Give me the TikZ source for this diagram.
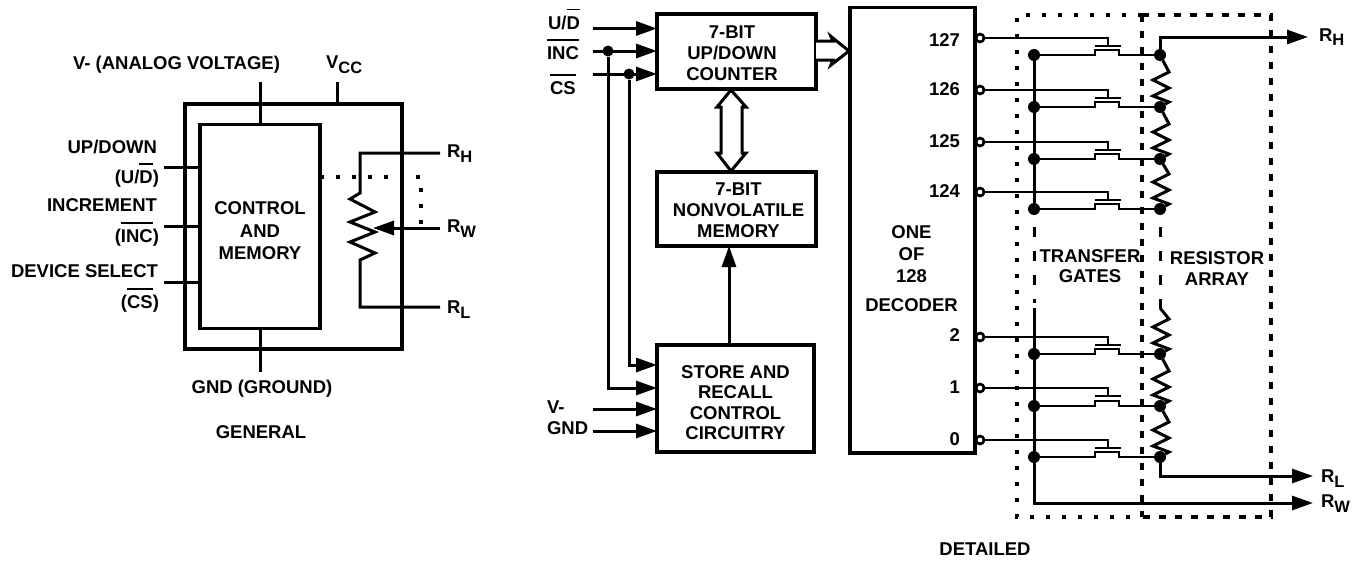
\documentclass[tikz,border=0pt]{standalone}
\usepackage{fontspec}
\setmainfont{Liberation Sans}
\usetikzlibrary{arrows.meta}
\newcommand\ovl[1]{\leavevmode\setbox0=\hbox{#1}\rlap{\raisebox{18.5pt}{\rule{\wd0}{1.8pt}}}\box0}
\newcommand\sbs[1]{\raisebox{-5pt}{\fontsize{16.5}{16.5}\selectfont #1}}
\newcommand\boxt[3]{\makebox[0pt]{\kern#1pt\kern#1pt\raisebox{#2pt}[0pt][0pt]{\begin{tabular}{@{}c@{}}#3\end{tabular}}}}
\tikzset{
  wire/.style={line width=3pt,line join=miter},
  thinwire/.style={line width=2.7pt,line join=miter},
  arrowwire/.style={wire,-{Triangle[length=21pt,width=14pt]}},
  blockbox/.style={draw,line width=3.1pt,rectangle,inner sep=0pt,outer sep=0pt,font=\bfseries\fontsize{18.5}{21}\selectfont},
  lbl/.style={inner sep=0pt,outer sep=0pt,font=\bfseries\fontsize{18.5}{21}\selectfont},
  dotline/.style={line width=3.2pt,dash pattern=on 4pt off 12pt},
  dashline/.style={line width=3.2pt,dash pattern=on 7pt off 9pt},
  busdash/.style={line width=3pt,dash pattern=on 10pt off 14pt},
  soliddot/.style={circle,fill=black,inner sep=0pt,outer sep=0pt,minimum size=12pt},
  opendot/.style={circle,draw,line width=2.7pt,fill=white,inner sep=0pt,outer sep=0pt,minimum size=8pt},
  smalldot/.style={circle,fill=black,inner sep=0pt,outer sep=0pt,minimum size=11pt},
  hollow/.style={line width=3pt,line join=miter,fill=white},
}
\begin{document}
\begin{tikzpicture}[x=1pt,y=-1pt]
\useasboundingbox (0,0) rectangle (1359,562);
%% ---------- GENERAL ----------
\node[blockbox,minimum width=217pt,minimum height=245pt] (outer) at (293.5,226.5) {};
\node[blockbox,minimum width=120pt,minimum height=204pt] (ctrl) at (260,226.25) {\boxt{0}{-11}{CONTROL\\[1.5pt]AND\\[1.5pt]MEMORY}};
\coordinate (vtop) at (260,82);
\coordinate (vcctop) at (337,82);
\coordinate (gndbot) at (260,372);
\coordinate (udl) at (164,167);
\coordinate (incl) at (164,226);
\coordinate (csl) at (164,282);
\coordinate (rhr) at (440,153);
\coordinate (rlr) at (440,307);
\coordinate (rwr) at (440,228);
\coordinate (rwt) at (373,228);
\draw[wire] (vtop) -- (ctrl.north);
\draw[wire] (vcctop) -- (outer.north -| vcctop);
\draw[wire] (ctrl.south) -- (gndbot);
\draw[wire] (udl) -- (ctrl.west |- udl);
\draw[wire] (incl) -- (ctrl.west |- incl);
\draw[wire] (csl) -- (ctrl.west |- csl);
\draw[wire] (rhr) -- (360,153) -- (360,193) -- (350,199) -- (375,212) -- (350,222) -- (375,232) -- (350,242) -- (375,253) -- (360,260) -- (360,307) -- (rlr);
\draw[arrowwire] (rwr) -- (rwt);
\draw[dotline] (ctrl.east |- 0,177) -- (421,177) -- (421,228);
\node[lbl,anchor=base] (tv) at (176.5,69) {V- (ANALOG VOLTAGE)};
\node[lbl,anchor=base west] (tvcc) at (326,68) {V\sbs{CC}};
\node[lbl,anchor=base east] (tud1) at (157,153) {UP/DOWN};
\node[lbl,anchor=base east] (tud2) at (159,183) {(U/\ovl{D})};
\node[lbl,anchor=base east] (tinc1) at (157,211) {INCREMENT};
\node[lbl,anchor=base east] (tinc2) at (159,242) {(\ovl{INC})};
\node[lbl,anchor=base east] (tcs1) at (158,277) {DEVICE SELECT};
\node[lbl,anchor=base east] (tcs2) at (159,308) {(\ovl{CS})};
\node[lbl,anchor=base west] (trh) at (447,157) {R\sbs{H}};
\node[lbl,anchor=base west] (trw) at (447,232) {R\sbs{W}};
\node[lbl,anchor=base west] (trl) at (447,313) {R\sbs{L}};
\node[lbl,anchor=base] (tgnd) at (262,393) {GND (GROUND)};
\node[lbl,anchor=base] (tgen) at (261,438) {GENERAL};
%% ---------- DETAILED: blocks ----------
\node[blockbox,minimum width=159pt,minimum height=75pt] (counter) at (736.5,51.5) {\boxt{-4.5}{-8.3}{7-BIT\\UP/DOWN\\COUNTER}};
\node[blockbox,minimum width=159pt,minimum height=74pt] (memory) at (736.5,209) {\boxt{2}{-7.3}{7-BIT\\NONVOLATILE\\MEMORY}};
\node[blockbox,minimum width=157pt,minimum height=107pt] (store) at (735.5,398.5) {\boxt{0}{-10.8}{STORE AND\\[-0.6pt]RECALL\\[-0.6pt]CONTROL\\[-0.6pt]CIRCUITRY}};
\node[blockbox,minimum width=125pt,minimum height=445.5pt] (decoder) at (912.5,230.25) {\boxt{-1}{-44.8}{ONE\\[1pt]OF\\[1pt]128\\[8pt]DECODER}};
%% inputs
\coordinate (inud) at (593,28.5);
\coordinate (ininc) at (593,51);
\coordinate (incs) at (593,74);
\coordinate (inv) at (593,409);
\coordinate (ingnd) at (593,431);
\node[smalldot] (dinc) at (608,51) {};
\node[smalldot] (dcs) at (629,74) {};
\draw[arrowwire] (inud) -- (counter.west |- inud);
\draw[arrowwire] (ininc) -- (counter.west |- ininc);
\draw[arrowwire] (incs) -- (counter.west |- incs);
\draw[arrowwire] (inv) -- (store.west |- inv);
\draw[arrowwire] (ingnd) -- (store.west |- ingnd);
\draw[arrowwire] (dinc) -- (608,388) -- (store.west |- 0,388);
\draw[arrowwire] (dcs) -- (629,365) -- (store.west |- 0,365);
\draw[arrowwire] (store.north -| 729,0) -- (memory.south -| 729,0);
%% hollow buses
\draw[hollow] (counter.east |- 0,41) -- (833,41) -- (831,36.5) -- (849,51) -- (831,65) -- (833,60) -- (counter.east |- 0,60);
\draw[hollow] (731,90) -- (746,107) -- (742,107) -- (742,153) -- (746,153) -- (731,171) -- (717,153) -- (721,153) -- (721,107) -- (717,107) -- cycle;
%% dotted regions
\coordinate (boxtl) at (1017,15);
\coordinate (boxtm) at (1142,15);
\coordinate (boxtr) at (1271,15);
\coordinate (boxbl) at (1017,517);
\coordinate (boxbm) at (1142,517);
\coordinate (boxbr) at (1271,517);
\draw[dotline] (boxtm) -- (boxtl) -- (boxbl) -- (boxbm);
\draw[dashline] (boxtm) -- (boxtr) -- (boxbr) -- (boxbm);
\draw[dashline] (boxtm) -- (boxbm);
%% transfer gates
\foreach \n/\y/\s in {a/38/55,b/90/107,c/142/159,d/192/209,e/337/354,f/388/406,g/440/457}{
  \node[opendot] (o\n) at (980,\y) {};
  \node[soliddot] (l\n) at (1034,\s) {};
  \node[soliddot] (r\n) at (1160,\s) {};
  \draw[thinwire] (o\n) -- (1108,\y) -- (1108,\y+8);
  \draw[thinwire] (1095,\y+8) -- (1121,\y+8);
  \draw[thinwire] (l\n) -- (1095,\s) -- (1095,\s-5) -- (1119,\s-5) -- (1119,\s) -- (r\n);
}
%% bus and resistor chain
\draw[wire] (la) -- (ld);
\draw[busdash] (1034,227) -- (1034,303);
\draw[busdash] (1160,227) -- (1160,308);
\coordinate (lowstart) at (1034,308);
\draw[wire] (lowstart) -- (lg);
\coordinate (rwend) at (1313,503);
\coordinate (rlend) at (1313,476);
\coordinate (rhend) at (1308,37);
\draw[arrowwire] (lg) -- (1034,503) -- (rwend);
\draw[arrowwire] (rg) -- (1160,476) -- (rlend);
\draw[arrowwire] (ra) -- (1160,37) -- (rhend);
\foreach \p/\q/\t in {a/b/107,b/c/159,c/d/209}{
  \draw[wire] (r\p) -- (1169,\t-35) -- (1153,\t-27) -- (1169,\t-19) -- (1153,\t-11) -- (1169,\t-5) -- (r\q);
}
\foreach \p/\q/\t in {e/f/406,f/g/457}{
  \draw[wire] (r\p) -- (1169,\t-35) -- (1153,\t-27) -- (1169,\t-19) -- (1153,\t-11) -- (1169,\t-5) -- (r\q);
}
\coordinate (rlow) at (1160,308);
\draw[wire] (rlow) -- (1169,319) -- (1153,327) -- (1169,335) -- (1153,343) -- (1169,349) -- (re);
%% labels
\node[lbl,anchor=base west] (dud) at (548,29) {U/\ovl{D}};
\node[lbl,anchor=base west] (dinct) at (547,59) {\ovl{INC}};
\node[lbl,anchor=base west] (dcst) at (550,94) {\ovl{CS}};
\node[lbl,anchor=base west] (dvt) at (547,413) {V-};
\node[lbl,anchor=base west] (dgt) at (547,434) {GND};
\node[lbl,anchor=base east] (n127) at (960,46) {127};
\node[lbl,anchor=base east] (n126) at (960,95) {126};
\node[lbl,anchor=base east] (n125) at (960,147) {125};
\node[lbl,anchor=base east] (n124) at (960,197) {124};
\node[lbl,anchor=base east] (n2) at (960,341) {2};
\node[lbl,anchor=base east] (n1) at (960,393) {1};
\node[lbl,anchor=base east] (n0) at (960,445) {0};
\node[lbl] (ttg) at (1090,266) {\boxt{0}{-6.8}{TRANSFER\\[-1pt]GATES}};
\node[lbl] (tra) at (1217,268) {\boxt{0}{-6.8}{RESISTOR\\ARRAY}};
\node[lbl,anchor=base west] (drh) at (1319,41) {R\sbs{H}};
\node[lbl,anchor=base west] (drl) at (1321,482) {R\sbs{L}};
\node[lbl,anchor=base west] (drw) at (1321,507) {R\sbs{W}};
\node[lbl,anchor=base] (tdet) at (985,555) {DETAILED};
\end{tikzpicture}
\end{document}
